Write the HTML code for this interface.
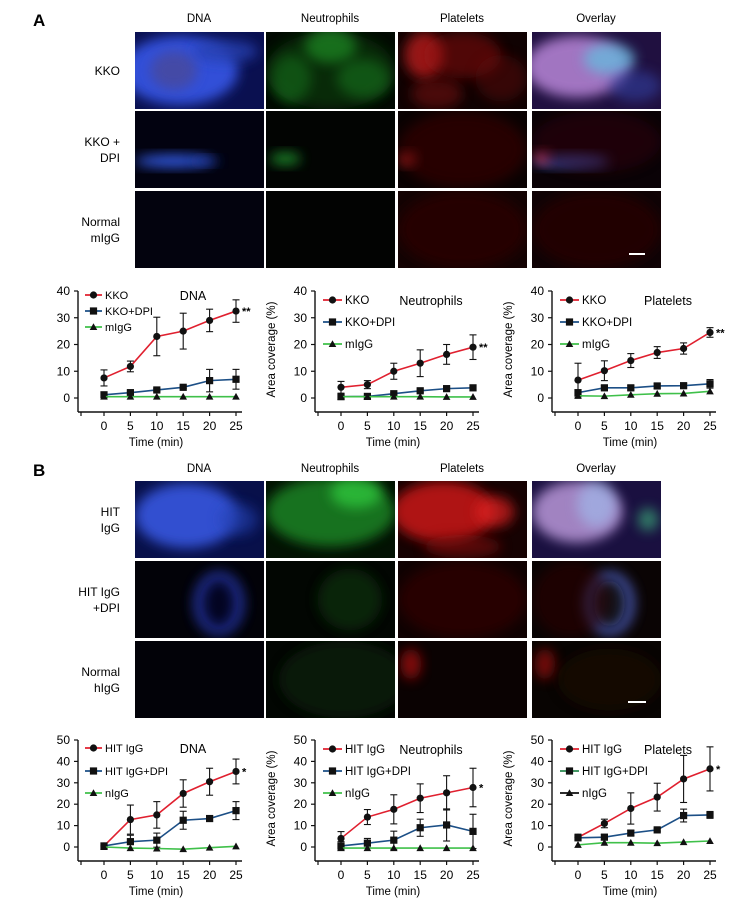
<!DOCTYPE html>
<html><head><meta charset="utf-8"><style>
body{margin:0;background:#fff}
svg{display:block;font-family:"Liberation Sans Narrow","Liberation Sans",sans-serif}
</style></head><body>
<svg id="fig" width="740" height="903" viewBox="0 0 740 903" xmlns="http://www.w3.org/2000/svg">
<defs>
<filter id="blur" x="-50%" y="-50%" width="200%" height="200%"><feGaussianBlur stdDeviation="6"/></filter>
<filter id="blur2" x="-50%" y="-50%" width="200%" height="200%"><feGaussianBlur stdDeviation="2"/></filter>
<clipPath id="c0"><rect x="0" y="0" width="129" height="77"/></clipPath>
</defs>
<text x="33" y="26" font-size="17" font-weight="bold" font-family="Liberation Sans">A</text>
<text x="33" y="476" font-size="17" font-weight="bold" font-family="Liberation Sans">B</text>
<g id="imgs"></g>
<g id="charts"></g>
</svg>
<script>
// ---------- chart data ----------
const times = [0, 5, 10, 15, 20, 25];
const xTicks = ["0", "5", "10", "15", "20", "25"];
const yTicksA = [0, 10, 20, 30, 40];
const yTicksB = [0, 10, 20, 30, 40, 50];

const aDnaKKO = [7.5, 11.8, 23, 25, 29, 32.5];
const aDnaKKOErr = [3, 2, 7.2, 6.7, 4.2, 4.2];
const aDnaDPI = [1.2, 2, 3, 4, 6.5, 7];
const aDnaDPIErr = [0.5, 0.5, 0.5, 0.5, 4.2, 3.7];
const aDnaIgG = [0.5, 0.5, 0.5, 0.5, 0.5, 0.5];

const aNeuKKO = [4, 5, 10, 13, 16.3, 19];
const aNeuKKOErr = [2.2, 1.5, 3, 5, 3.7, 4.6];
const aNeuDPI = [0.5, 0.6, 1.6, 2.7, 3.5, 3.8];
const aNeuDPIErr = [0.3, 0.3, 0.5, 0.6, 0.5, 0.5];
const aNeuIgG = [0.5, 0.5, 0.5, 0.5, 0.4, 0.4];

const aPltKKO = [6.7, 10.2, 14, 17, 18.5, 24.5];
const aPltKKOErr = [6.3, 3.7, 2.6, 2.2, 2.1, 1.8];
const aPltDPI = [2, 3.8, 3.8, 4.5, 4.6, 5.3];
const aPltDPIErr = [0.5, 0.8, 0.8, 0.8, 0.8, 1.6];
const aPltIgG = [0.8, 0.7, 1.2, 1.6, 1.7, 2.5];

const bDnaHIT = [0.5, 12.8, 15, 25, 30.5, 35.3];
const bDnaHITErr = [0.3, 6.8, 6.2, 6.4, 6.3, 5.8];
const bDnaDPI = [0.5, 2.5, 3.2, 12.5, 13.3, 17];
const bDnaDPIErr = [0.3, 3, 3.3, 4.2, 1.2, 4.2];
const bDnaIgG = [0, -0.5, -0.7, -1, -0.3, 0.3];

const bNeuHIT = [4, 14, 17.6, 22.8, 25.3, 27.8];
const bNeuHITErr = [3.2, 3.5, 6.8, 6.7, 8, 9];
const bNeuDPI = [0.5, 1.8, 3.2, 9, 10.3, 7.3];
const bNeuDPIErr = [2, 2.2, 4.2, 4, 7.5, 8];
const bNeuIgG = [-0.5, -0.5, -0.5, -0.5, -0.5, -0.5];

const bPltHIT = [4.5, 11, 18, 23.3, 31.8, 36.5];
const bPltHITErr = [1.5, 2, 7.3, 6.5, 11, 10.3];
const bPltDPI = [4.3, 4.6, 6.5, 8, 14.7, 15];
const bPltDPIErr = [1.2, 1.2, 1.2, 0.6, 3, 1.6];
const bPltIgG = [1, 2, 2, 1.8, 2.3, 2.8];

const NS = "http://www.w3.org/2000/svg";
function mk(tag, attrs, parent, txt){
  const e = document.createElementNS(NS, tag);
  for (const k in attrs) e.setAttribute(k, attrs[k]);
  if (txt !== undefined) e.textContent = txt;
  parent.appendChild(e);
  return e;
}
const RED = "#e0202f", BLUE = "#1c4f86", GREEN = "#3fc04a";

function marker(g, shape, x, y){
  let m;
  if (shape === "circle") m = mk("circle", {cx:x, cy:y, r:3.6, fill:"#111"}, g);
  else if (shape === "square") m = mk("rect", {x:x-3.6, y:y-3.6, width:7.2, height:7.2, fill:"#111"}, g);
  else m = mk("polygon", {points:`${x},${y-3.8} ${x+3.8},${y+3} ${x-3.8},${y+3}`, fill:"#111"}, g);
  return m;
}

function chart(id, axX, y0, yTop, ymax, yticks, title, sig, series, legendYs){
  const g = mk("g", {}, document.getElementById("charts"));
  
  
  const xS = t => axX + 26 + t / 25 * 132;
  const yS = v => y0 - v / ymax * (y0 - yTop);
  const bottom = y0 + 14;
  const left = axX < 100;
  const ya = mk("line", {x1:axX, y1:yTop, x2:axX, y2:bottom, stroke:"#111", "stroke-width":1.4}, g);
  
  
  const xa = mk("line", {x1:axX, y1:bottom, x2:axX+164, y2:bottom, stroke:"#111", "stroke-width":1.4}, g);
  
  
  yticks.forEach(v => {
    mk("line", {x1:axX-4, y1:yS(v), x2:axX, y2:yS(v), stroke:"#111", "stroke-width":1.2}, g);
    const t = mk("text", {x:axX-8, y:yS(v)+4, "text-anchor":"end", "font-size":12}, g, String(v));
    
    
  });
  mk("line", {x1:axX+3, y1:bottom, x2:axX+3, y2:bottom+4, stroke:"#111", "stroke-width":1.2}, g);
  times.forEach((tm, i) => {
    mk("line", {x1:xS(tm), y1:bottom, x2:xS(tm), y2:bottom+4, stroke:"#111", "stroke-width":1.2}, g);
    const t = mk("text", {x:xS(tm), y:bottom+18, "text-anchor":"middle", "font-size":12}, g, xTicks[i]);
    
    
  });
  const xt = mk("text", {x:axX+78, y:bottom+34, "text-anchor":"middle", "font-size":11.5}, g, "Time (min)");
  
  
  if (!left){
    const cy = (yTop + y0) / 2 + 5;
    const yt = mk("text", {x:axX-40, y:cy, "text-anchor":"middle", "font-size":11.5, transform:`rotate(-90 ${axX-40} ${cy})`}, g, "Area coverage (%)");
    
    
  }
  const tt = mk("text", {x:axX+(left?115:116), y:legendYs[0]+5, "text-anchor":"middle", "font-size":12.5}, g, title);
  
  
  series.forEach((s, si) => {
    const sg = mk("g", {}, g);
    
    
    const pts = s.vals.map((v, i) => xS(times[i]) + "," + yS(v)).join(" ");
    mk("polyline", {points:pts, fill:"none", stroke:s.color, "stroke-width":1.6}, sg);
    s.vals.forEach((v, i) => {
      const x = xS(times[i]);
      if (s.err){
        const e = s.err[i];
        mk("line", {x1:x, y1:yS(v+e), x2:x, y2:yS(v-e), stroke:"#111", "stroke-width":1.1}, sg);
        mk("line", {x1:x-3.5, y1:yS(v+e), x2:x+3.5, y2:yS(v+e), stroke:"#111", "stroke-width":1.1}, sg);
        mk("line", {x1:x-3.5, y1:yS(v-e), x2:x+3.5, y2:yS(v-e), stroke:"#111", "stroke-width":1.1}, sg);
      }
      const m = marker(sg, s.shape, x, yS(v));
      
      
    });
    const ly = legendYs[si];
    const lg = mk("g", {}, g);
    
    
    const l0 = left ? 7 : 8, l1 = left ? 24 : 27;
    mk("line", {x1:axX+l0, y1:ly, x2:axX+l1, y2:ly, stroke:s.legColor||s.color, "stroke-width":1.8}, lg);
    marker(lg, s.shape, axX+(l0+l1)/2, ly);
    mk("text", {x:axX+(left?27:30), y:ly+4, "font-size":left?11:11.5}, lg, s.name);
  });
  const last = series[0].vals[5];
  const st = mk("text", {x:xS(25)+6, y:yS(last)+4, "font-size":11, "font-weight":"bold"}, g, sig);
  
  
}

chart("chart-a-dna", 78, 398, 291, 40, yTicksA, "DNA", "**", [
  {name:"KKO", vals:aDnaKKO, err:aDnaKKOErr, color:RED, shape:"circle"},
  {name:"KKO+DPI", vals:aDnaDPI, err:aDnaDPIErr, color:BLUE, shape:"square"},
  {name:"mIgG", vals:aDnaIgG, color:GREEN, shape:"tri"}], [295, 311, 327]);
chart("chart-a-neutrophils", 315, 398, 291, 40, yTicksA, "Neutrophils", "**", [
  {name:"KKO", vals:aNeuKKO, err:aNeuKKOErr, color:RED, shape:"circle"},
  {name:"KKO+DPI", vals:aNeuDPI, err:aNeuDPIErr, color:BLUE, shape:"square"},
  {name:"mIgG", vals:aNeuIgG, color:GREEN, shape:"tri"}], [300, 322, 344]);
chart("chart-a-platelets", 552, 398, 291, 40, yTicksA, "Platelets", "**", [
  {name:"KKO", vals:aPltKKO, err:aPltKKOErr, color:RED, shape:"circle"},
  {name:"KKO+DPI", vals:aPltDPI, err:aPltDPIErr, color:BLUE, shape:"square"},
  {name:"mIgG", vals:aPltIgG, color:GREEN, shape:"tri"}], [300, 322, 344]);
chart("chart-b-dna", 78, 847, 740, 50, yTicksB, "DNA", "*", [
  {name:"HIT IgG", vals:bDnaHIT, err:bDnaHITErr, color:RED, shape:"circle"},
  {name:"HIT IgG+DPI", vals:bDnaDPI, err:bDnaDPIErr, color:BLUE, shape:"square"},
  {name:"nIgG", vals:bDnaIgG, color:GREEN, shape:"tri"}], [748, 771, 793]);
chart("chart-b-neutrophils", 315, 847, 740, 50, yTicksB, "Neutrophils", "*", [
  {name:"HIT IgG", vals:bNeuHIT, err:bNeuHITErr, color:RED, shape:"circle"},
  {name:"HIT IgG+DPI", vals:bNeuDPI, err:bNeuDPIErr, color:BLUE, shape:"square"},
  {name:"nIgG", vals:bNeuIgG, color:GREEN, shape:"tri"}], [749, 771, 793]);
chart("chart-b-platelets", 552, 847, 740, 50, yTicksB, "Platelets", "*", [
  {name:"HIT IgG", vals:bPltHIT, err:bPltHITErr, color:RED, shape:"circle"},
  {name:"HIT IgG+DPI", vals:bPltDPI, err:bPltDPIErr, color:BLUE, legColor:"#2a8a50", shape:"square"},
  {name:"nIgG", vals:bPltIgG, color:GREEN, legColor:"#111", shape:"tri"}], [749, 771, 793]);

// ---------- microscopy panels ----------
const imgs = document.getElementById("imgs");
const colX = [135, 266, 398, 532];
const colNames = ["DNA", "Neutrophils", "Platelets", "Overlay"];
function panelSet(key, headY, rowYs, rowLabels, specs){
  colNames.forEach((c, i) => {
    const t = mk("text", {x:colX[i]+64, y:headY, "text-anchor":"middle", "font-size":11.5}, imgs, c);
    
    
  });
  rowYs.forEach((ry, r) => {
    const lines = rowLabels[r];
    const mid = ry + 39;
    lines.forEach((ln, k) => {
      const t = mk("text", {x:120, y:mid + 4 + (k - (lines.length-1)/2) * 16, "text-anchor":"end", "font-size":12}, imgs, ln);
      
      
    });
    colX.forEach((cx, ci) => {
      const g = mk("g", {transform:`translate(${cx},${ry})`, "clip-path":"url(#c0)"}, imgs);
      
      
      const sp = specs[r][ci];
      mk("rect", {x:0, y:0, width:129, height:77, fill:sp[0]}, g);
      sp.slice(1).forEach(b => {
        mk("ellipse", {cx:b[0]*129, cy:b[1]*77, rx:b[2]*129, ry:b[3]*77, fill:b[4], opacity:b[5], filter:b[6]?"url(#blur2)":"url(#blur)"}, g);
      });
    });
  });
}
panelSet("a", 22, [32, 111, 191], [["KKO"], ["KKO +", "DPI"], ["Normal", "mIgG"]], [
  [["#0a1050", [0.35,0.5,0.45,0.45,"#3050d8",1], [0.7,0.25,0.25,0.15,"#2840b0",0.8], [0.3,0.5,0.18,0.25,"#4a4a9a",0.8]],
   ["#020a02", [0.5,0.2,0.2,0.2,"#30e040",0.8], [0.2,0.6,0.15,0.3,"#20b030",0.6], [0.75,0.6,0.2,0.25,"#28c038",0.6], [0.5,0.5,0.5,0.5,"#0c4010",0.6]],
   ["#100202", [0.2,0.3,0.15,0.3,"#d02020",0.7], [0.5,0.3,0.3,0.3,"#901010",0.5], [0.8,0.6,0.2,0.3,"#701010",0.4], [0.3,0.8,0.2,0.2,"#a01515",0.4]],
   ["#201040", [0.35,0.45,0.4,0.4,"#b080d0",0.9], [0.6,0.35,0.2,0.2,"#60c0e0",0.7], [0.8,0.7,0.2,0.2,"#3040a0",0.6]]],
  [["#020210", [0.3,0.65,0.3,0.08,"#3058e0",1], [0.55,0.65,0.1,0.05,"#2040b0",0.8]],
   ["#020402", [0.15,0.62,0.12,0.08,"#20a030",0.8]],
   ["#0a0202", [0.08,0.62,0.06,0.08,"#ff3030",0.9], [0.5,0.5,0.5,0.5,"#3a0606",0.6]],
   ["#0a0206", [0.3,0.65,0.3,0.08,"#4060d0",0.9], [0.08,0.6,0.06,0.08,"#ff4060",0.8], [0.5,0.4,0.5,0.4,"#300608",0.5]]],
  [["#03030e"], ["#020302"], ["#140303", [0.5,0.5,0.5,0.5,"#2a0505",0.8]], ["#100305", [0.5,0.5,0.5,0.5,"#280606",0.8]]]
]);
panelSet("b", 472, [481, 561, 641], [["HIT", "IgG"], ["HIT IgG", "+DPI"], ["Normal", "hIgG"]], [
  [["#08104a", [0.4,0.45,0.4,0.42,"#3050d0",1], [0.8,0.5,0.15,0.2,"#2040b0",0.6]],
   ["#031203", [0.5,0.4,0.5,0.45,"#1c8a28",0.8], [0.7,0.15,0.2,0.2,"#30d040",0.7]],
   ["#160202", [0.35,0.4,0.4,0.4,"#c01818",0.9], [0.75,0.4,0.15,0.2,"#e02020",0.7], [0.5,0.85,0.3,0.15,"#800a0a",0.6]],
   ["#1a1040", [0.35,0.4,0.35,0.4,"#b090d0",0.9], [0.5,0.3,0.15,0.3,"#a0c0f0",0.6], [0.9,0.5,0.08,0.15,"#40c080",0.6]]],
  [["#020208", [0.65,0.55,0.2,0.42,"#2838b0",0.8], [0.65,0.55,0.12,0.3,"#050515",0.9]],
   ["#020602", [0.65,0.5,0.25,0.4,"#0c3010",0.7]],
   ["#100202", [0.5,0.5,0.5,0.5,"#300505",0.7]],
   ["#0a0404", [0.6,0.55,0.2,0.42,"#5060c0",0.8], [0.6,0.55,0.12,0.3,"#080810",0.9], [0.3,0.5,0.3,0.5,"#2a0606",0.6]]],
  [["#020208"], ["#020602", [0.6,0.5,0.5,0.5,"#0a200a",0.7]], ["#0a0202", [0.1,0.3,0.08,0.2,"#a01010",0.8]], ["#080402", [0.1,0.3,0.08,0.2,"#a01010",0.7], [0.6,0.5,0.4,0.4,"#1a1006",0.6]]]
]);
const sb1 = mk("rect", {x:629, y:253, width:16, height:2, fill:"#fff"}, imgs);


const sb2 = mk("rect", {x:628, y:701, width:18, height:2, fill:"#fff"}, imgs);


</script>
</body></html>
